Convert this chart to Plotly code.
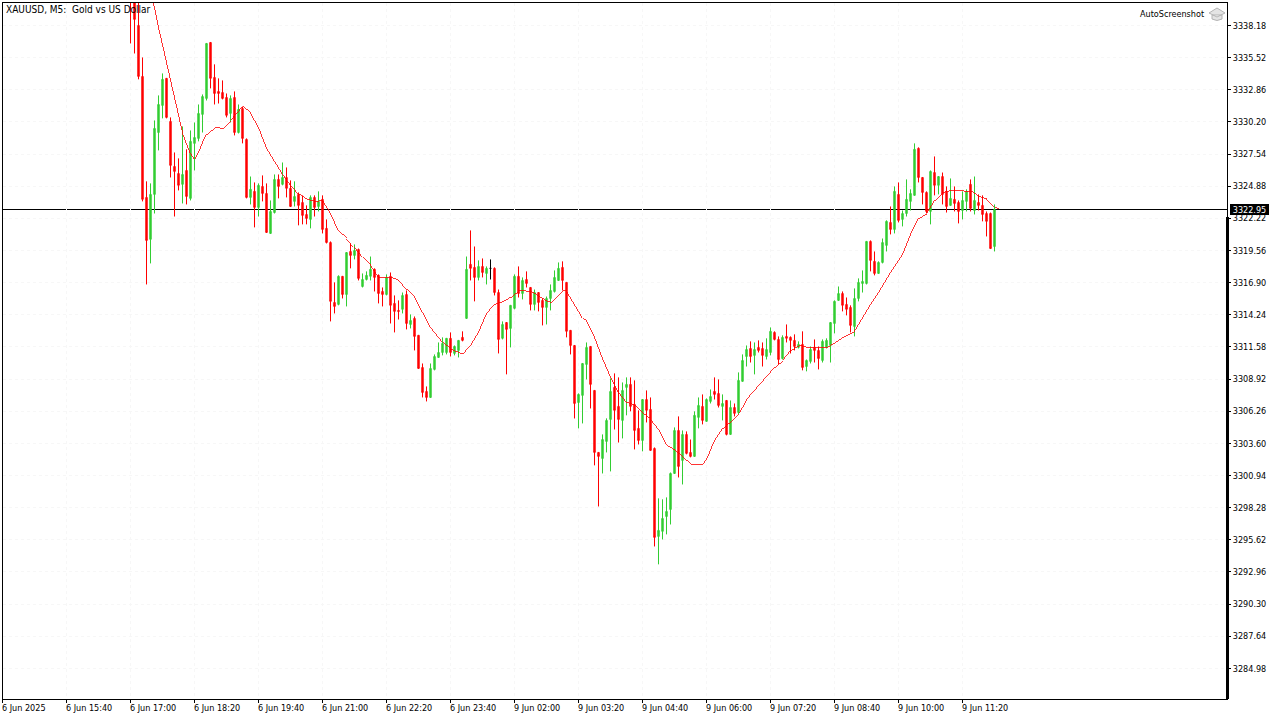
import plotly.graph_objects as go

bar_index_start = 32
opens = [3341.50,3340.80,3338.18,3333.96,3323.95,3320.48,3324.20,3329.32,3331.56,3333.80,3330.24,3326.51,3325.93,3325.03,3326.18,3323.87,3328.42,3328.83,3330.82,3332.14,3336.77,3333.88,3332.72,3332.63,3332.22,3330.90,3332.22,3329.32,3331.31,3328.75,3323.95,3324.45,3323.12,3324.86,3324.28,3320.97,3322.70,3325.44,3325.03,3325.60,3324.70,3323.62,3324.20,3323.53,3322.54,3322.13,3323.95,3323.20,3323.79,3321.39,
 3320.22,3315.26,3315.10,3317.42,3315.92,3319.48,3319.15,3319.64,3316.58,3317.16,3317.42,3318.00,3317.50,3316.17,3315.92,3317.42,3315.18,3314.60,3314.69,3315.92,3313.44,3313.94,3312.54,3309.88,3307.90,3307.40,3309.72,3310.71,3311.12,3311.12,3312.29,3311.04,3311.29,3312.37,3313.94,3318.41,3318.16,3317.33,3318.24,3317.66,3318.08,3318.08,3316.08,3312.29,3313.60,3313.11,3314.77,3317.42,3316.00,3317.16,
 3316.50,3315.10,3316.08,3315.43,3314.85,3315.59,3316.17,3317.08,3318.16,3316.92,3312.95,3311.70,3306.98,3307.57,3310.13,3311.62,3307.98,3302.85,3302.35,3303.76,3305.58,3308.23,3306.66,3305.50,3308.23,3308.48,3306.82,3304.84,3303.84,3307.23,3306.41,3303.18,3295.90,3296.32,3297.55,3298.13,3301.11,3304.67,3302.19,3304.34,3302.85,3302.52,3305.75,3306.66,3305.42,3307.07,3307.90,3307.73,3306.66,3307.15,
 3304.34,3306.57,3306.16,3308.73,3310.79,3311.45,3310.88,3311.54,3311.45,3310.79,3311.12,3312.78,3312.20,3310.62,3312.45,3312.37,3312.12,3311.54,3311.79,3309.96,3310.38,3311.54,3311.29,3310.46,3311.54,3311.70,3313.52,3315.43,3316.00,3315.10,3314.85,3313.27,3315.59,3316.83,3316.83,3320.31,3318.66,3317.66,3318.57,3319.98,3321.88,3321.30,3324.20,3322.13,3322.62,3323.62,3324.12,3328.01,3325.60,3324.36,
 3322.79,3326.01,3324.95,3325.68,3324.45,3323.29,3323.79,3323.53,3322.87,3323.62,3325.03,3322.87,3323.53,3323.29,3322.62,3322.62,3319.89]
highs = [3342.00,3342.00,3340.50,3335.53,3325.28,3325.11,3330.32,3332.39,3334.21,3333.80,3330.57,3327.67,3327.18,3329.82,3327.93,3329.49,3330.15,3331.64,3332.47,3336.69,3336.77,3334.96,3333.80,3333.63,3332.55,3332.39,3332.72,3331.64,3331.47,3328.83,3325.68,3325.19,3325.11,3325.77,3325.11,3323.70,3325.85,3325.85,3326.84,3326.43,3325.36,3325.28,3324.36,3324.12,3323.29,3324.12,3324.12,3324.45,3324.12,3322.13,
 3320.31,3316.92,3317.50,3317.42,3319.39,3320.14,3320.06,3319.72,3317.66,3317.83,3319.06,3318.08,3317.58,3316.50,3317.58,3317.74,3315.84,3315.43,3316.08,3316.25,3314.27,3314.10,3312.54,3310.21,3308.31,3310.21,3310.96,3311.95,3312.37,3312.29,3312.78,3311.70,3312.12,3312.87,3319.06,3321.22,3319.89,3318.74,3318.90,3318.24,3318.82,3318.16,3316.33,3313.69,3313.60,3315.02,3317.58,3318.24,3317.33,3317.83,
 3316.50,3316.33,3316.08,3315.59,3315.75,3316.75,3317.91,3318.57,3318.66,3316.92,3312.95,3311.70,3307.73,3310.21,3311.95,3311.62,3307.98,3302.85,3304.34,3305.67,3308.98,3309.39,3309.06,3308.64,3309.06,3309.06,3308.81,3306.33,3307.23,3307.98,3307.40,3303.26,3299.05,3298.97,3299.13,3301.19,3304.92,3305.83,3304.67,3304.59,3303.92,3306.25,3307.40,3307.65,3307.32,3308.06,3309.06,3308.89,3307.65,3307.15,
 3307.15,3306.90,3309.47,3310.96,3311.70,3312.04,3311.95,3312.12,3311.95,3312.29,3313.19,3312.87,3312.45,3312.54,3313.44,3312.45,3312.62,3312.04,3312.87,3310.54,3311.62,3312.20,3311.62,3312.20,3312.29,3313.60,3315.43,3316.58,3316.17,3315.67,3315.02,3316.42,3317.25,3317.91,3320.31,3320.39,3319.48,3318.66,3320.55,3322.05,3323.20,3324.86,3325.19,3322.87,3325.44,3324.62,3328.42,3328.09,3325.60,3324.45,
 3326.18,3327.34,3325.68,3326.01,3324.86,3325.52,3324.86,3323.70,3324.45,3324.62,3325.44,3325.68,3324.20,3324.12,3322.79,3322.70,3323.37]
lows = [3336.69,3335.86,3333.72,3323.62,3316.75,3318.49,3322.62,3327.84,3330.49,3330.49,3325.60,3322.37,3324.53,3323.45,3323.37,3323.70,3326.18,3328.59,3329.32,3331.97,3332.97,3331.64,3331.72,3332.06,3330.57,3330.15,3329.08,3329.24,3328.42,3323.87,3323.37,3321.47,3322.37,3323.62,3321.05,3320.97,3322.62,3323.87,3324.95,3323.95,3323.20,3323.20,3321.64,3321.72,3321.72,3321.39,3322.37,3322.79,3320.97,3320.14,
 3313.69,3314.35,3315.02,3315.59,3314.93,3318.08,3318.82,3317.08,3316.50,3317.08,3317.08,3316.17,3315.18,3314.93,3315.84,3313.52,3312.78,3313.85,3314.35,3313.03,3313.11,3311.29,3309.80,3307.40,3307.07,3307.40,3309.64,3310.71,3310.88,3310.96,3310.79,3310.88,3310.71,3312.04,3314.02,3317.08,3315.35,3317.08,3317.33,3316.75,3317.16,3315.84,3311.04,3312.20,3309.31,3311.54,3314.69,3315.67,3315.51,3316.50,
 3314.60,3314.60,3314.52,3313.36,3313.44,3314.60,3316.08,3317.08,3316.25,3312.37,3310.96,3305.66,3304.84,3305.25,3308.89,3306.49,3301.78,3298.38,3301.11,3302.85,3301.28,3304.75,3303.67,3304.01,3305.92,3306.25,3303.10,3303.51,3302.94,3305.33,3303.02,3295.07,3293.59,3295.65,3296.07,3296.89,3301.11,3300.78,3300.20,3302.69,3302.44,3302.52,3304.84,3305.17,3305.42,3306.90,3307.23,3306.57,3305.50,3304.26,
 3304.34,3305.83,3306.00,3308.73,3309.96,3310.29,3309.31,3311.12,3309.96,3310.54,3310.88,3312.12,3310.13,3310.54,3311.95,3311.04,3311.29,3311.45,3309.64,3309.56,3310.21,3310.29,3309.72,3310.29,3311.45,3310.29,3312.70,3315.43,3314.52,3314.19,3312.78,3312.45,3315.35,3316.08,3316.75,3317.83,3317.50,3317.66,3318.49,3319.48,3320.89,3320.97,3321.88,3321.55,3322.37,3322.87,3324.12,3325.19,3323.37,3322.62,
 3321.72,3324.12,3324.20,3323.37,3322.70,3323.29,3322.79,3321.80,3322.13,3322.79,3322.79,3322.54,3322.87,3321.97,3320.72,3319.72,3319.48]
closes = [3340.60,3338.68,3333.96,3323.79,3320.39,3324.20,3329.66,3331.64,3333.72,3330.57,3326.60,3326.10,3324.95,3325.85,3324.03,3328.59,3328.91,3330.90,3332.30,3336.69,3333.80,3332.55,3332.55,3332.14,3330.74,3332.14,3329.32,3331.23,3328.83,3323.95,3324.62,3323.12,3324.95,3324.28,3321.05,3322.79,3325.44,3324.86,3325.60,3324.70,3323.20,3324.03,3323.29,3322.46,3322.21,3323.95,3323.12,3323.62,3321.30,3320.22,
 3315.35,3314.93,3317.42,3315.92,3319.39,3319.15,3319.56,3317.25,3317.16,3317.50,3318.00,3317.33,3316.00,3315.92,3317.33,3315.02,3314.52,3314.52,3315.84,3313.52,3313.77,3312.45,3309.80,3307.81,3307.40,3309.80,3310.79,3311.12,3311.87,3312.29,3311.12,3311.62,3312.12,3312.12,3318.00,3318.08,3317.33,3318.24,3317.74,3318.08,3318.08,3316.08,3312.20,3313.44,3313.03,3315.02,3317.42,3316.00,3317.08,3316.83,
 3315.10,3316.08,3315.26,3314.85,3315.59,3316.25,3317.33,3318.08,3317.08,3312.87,3311.70,3306.90,3307.65,3310.21,3311.54,3308.48,3302.85,3302.52,3303.92,3305.50,3307.90,3306.33,3305.58,3307.98,3308.48,3306.66,3304.67,3303.84,3307.23,3306.33,3303.02,3295.82,3296.40,3297.39,3297.97,3301.11,3304.67,3301.69,3304.34,3302.77,3302.52,3305.92,3306.74,3305.50,3307.23,3307.48,3307.65,3306.74,3306.90,3304.34,
 3306.57,3306.08,3308.81,3310.46,3311.37,3310.79,3311.37,3311.29,3310.88,3311.37,3312.87,3312.20,3310.54,3312.37,3312.29,3312.12,3311.62,3311.79,3309.88,3310.46,3311.37,3311.29,3310.62,3312.04,3312.12,3313.60,3315.35,3316.00,3315.02,3314.69,3313.36,3315.59,3316.92,3317.00,3320.31,3318.74,3317.66,3318.57,3320.22,3321.97,3321.30,3324.45,3322.05,3322.62,3323.79,3324.28,3327.93,3325.60,3324.36,3322.79,
 3326.10,3324.95,3325.68,3324.20,3323.20,3323.87,3323.45,3322.79,3323.70,3324.45,3323.04,3323.70,3323.29,3322.54,3321.97,3319.72,3322.95]

ma_bars = [37,39,41,43,45,47,48,49,50,51,53,55,57,60,62,64,66,68,70,72,74,76,78,80,82,84,86,88,90,92,94,97,99,101,103,105,107,110,112,115,117,119,121,123,125,127,129,132,134,136,137,140,141,143,145,146,148,150,152,154,156,158,160,162,164,166,168,170,172,175,176,178,180,182,184,186,190,193,195,197,199,201,206,208,210,213,215,217,219,222,225,227,229,231,233,235,237,242,244,246,248,249]
ma_values = [3341.24,3338.02,3335.12,3332.14,3329.32,3327.59,3327.09,3327.67,3328.50,3329.16,3329.74,3329.66,3330.32,3331.47,3330.90,3329.74,3328.01,3326.93,3325.85,3324.95,3324.20,3323.79,3323.62,3323.70,3322.62,3321.14,3320.55,3319.81,3318.98,3318.33,3317.33,3317.33,3317.08,3316.33,3315.67,3314.43,3313.19,3311.95,3311.37,3310.96,3311.70,3312.78,3314.35,3315.10,3315.35,3315.67,3316.25,3316.17,3315.75,3315.35,3315.26,3316.25,3316.17,3315.02,3313.94,3313.69,3312.37,3310.62,3309.06,3307.81,3306.98,3306.74,3306.08,3305.58,3304.75,3303.43,3303.02,3302.44,3301.86,3301.86,3302.27,3303.84,3304.84,3305.42,3306.08,3307.23,3308.73,3309.88,3310.46,3311.29,3311.70,3311.54,3311.54,3311.95,3312.37,3312.87,3314.02,3315.10,3316.08,3317.74,3319.23,3320.89,3322.21,3322.62,3323.70,3324.36,3324.53,3324.45,3324.03,3323.79,3323.12,3322.95]

price_ticks = [3338.18,3335.52,3332.86,3330.20,3327.54,3324.88,3322.22,3319.56,3316.90,3314.24,3311.58,3308.92,3306.26,3303.60,3300.94,3298.28,3295.62,3292.96,3290.30,3287.64,3284.98]
time_tick_bars = [0,16,32,48,64,80,96,112,128,144,160,176,192,208,224,240]
time_labels = ["6 Jun 2025","6 Jun 15:40","6 Jun 17:00","6 Jun 18:20","6 Jun 19:40","6 Jun 21:00","6 Jun 22:20","6 Jun 23:40","9 Jun 02:00","9 Jun 03:20","9 Jun 04:40","9 Jun 06:00","9 Jun 07:20","9 Jun 08:40","9 Jun 10:00","9 Jun 11:20"]
last_price = 3322.95
title_text = "XAUUSD, M5:  Gold vs US Dollar"
stamp_text = "AutoScreenshot"

FONT = "DejaVu Sans Condensed, DejaVu Sans"
SIZE = 9
GREEN = "#32CD32"
RED = "#FF0000"
bars = [bar_index_start + k for k in range(len(opens))]
normal = [k for k in range(len(opens)) if opens[k] != closes[k]]
doji = [k for k in range(len(opens)) if opens[k] == closes[k]]

def pick(values, keys):
    return [values[k] for k in keys]

fig = go.Figure()
fig.add_trace(go.Candlestick(
    x=pick(bars, normal), open=pick(opens, normal), high=pick(highs, normal),
    low=pick(lows, normal), close=pick(closes, normal),
    increasing=dict(line=dict(color=GREEN, width=1), fillcolor=GREEN),
    decreasing=dict(line=dict(color=RED, width=1), fillcolor=RED),
    whiskerwidth=0, showlegend=False, hoverinfo="skip"))
if doji:
    fig.add_trace(go.Candlestick(
        x=pick(bars, doji), open=pick(opens, doji), high=pick(highs, doji),
        low=pick(lows, doji), close=pick(closes, doji),
        increasing=dict(line=dict(color="#000000", width=1), fillcolor="#000000"),
        decreasing=dict(line=dict(color="#000000", width=1), fillcolor="#000000"),
        whiskerwidth=0, showlegend=False, hoverinfo="skip"))
fig.add_trace(go.Scatter(x=ma_bars, y=ma_values, mode="lines",
                         line=dict(color=RED, width=0.8), showlegend=False, hoverinfo="skip"))

fig.add_shape(type="line", xref="paper", x0=0, x1=1, yref="y", y0=last_price, y1=last_price,
              line=dict(color="#000000", width=1), layer="between")
# heavier lower part of the price-scale edge
fig.add_shape(type="rect", xref="paper", yref="paper", xsizemode="pixel", ysizemode="pixel",
              xanchor=1, yanchor=0, x0=-1, x1=2, y0=0, y1=482,
              line=dict(width=0), fillcolor="#000000")
# first time tick sits on the left frame
fig.add_shape(type="line", xref="paper", yref="paper", xsizemode="pixel", ysizemode="pixel",
              xanchor=0, yanchor=0, x0=-0.5, x1=-0.5, y0=0, y1=-4,
              line=dict(color="#000000", width=1))
# graduation-cap mark beside the AutoScreenshot stamp
fig.add_shape(type="path", xref="paper", yref="paper", xsizemode="pixel", ysizemode="pixel",
              xanchor=1, yanchor=1,
              path="M -15 -12 L -15 -16 Q -10 -19 -5 -16 L -5 -12 Z M -18 -10 L -10 -5 L -2 -10 L -10 -14 Z",
              line=dict(color="#B4B4B4", width=1), fillcolor="#E4E4E4")

annotations = []
annotations.append(dict(text=title_text, xref="paper", x=0, xshift=1, yref="paper", y=1, yshift=1,
                        xanchor="left", yanchor="top", showarrow=False,
                        font=dict(family=FONT, size=10, color="#000000")))
annotations.append(dict(text=stamp_text, xref="paper", x=1, xshift=-21, yref="paper", y=1, yshift=-4,
                        xanchor="right", yanchor="top", showarrow=False,
                        font=dict(family=FONT, size=SIZE, color="#000000")))
for b, lab in zip(time_tick_bars, time_labels):
    ref = dict(xref="paper", x=0) if b == 0 else dict(xref="x", x=b)
    annotations.append(dict(text=lab, yref="paper", y=0, yshift=-2, xanchor="left",
                            yanchor="top", showarrow=False, xshift=-3,
                            font=dict(family=FONT, size=SIZE, color="#000000"), **ref))
annotations.append(dict(text=f"{last_price:.2f}", xref="paper", x=1, xshift=3, yref="y", y=last_price,
                        xanchor="left", yanchor="middle", showarrow=False, bgcolor="#000000",
                        borderpad=0, borderwidth=0, width=39, height=11, align="center",
                        font=dict(family=FONT, size=SIZE, color="#FFFFFF")))

fig.update_layout(
    width=1280, height=720, margin=dict(l=3, r=53, t=3, b=21, pad=0),
    paper_bgcolor="#FFFFFF", plot_bgcolor="#FFFFFF",
    font=dict(family=FONT, size=SIZE, color="#000000"),
    boxgap=0.5, annotations=annotations, dragmode=False,
    xaxis=dict(range=[0.125, 306.125], tickmode="array", tickvals=time_tick_bars, ticktext=[""] * len(time_tick_bars),
               ticks="outside", ticklen=3, tickcolor="#000000", tickwidth=1,
               showgrid=True, gridcolor="#F7F7F7", griddash="dot", gridwidth=1,
               showline=True, linecolor="#000000", linewidth=1, mirror=True,
               rangeslider=dict(visible=False), zeroline=False, fixedrange=True),
    yaxis=dict(range=[3282.449, 3340.036], side="right", tickmode="array", tickvals=price_ticks,
               ticktext=[f"{v:.2f}" for v in price_ticks], ticks="outside", ticklen=3,
               tickcolor="#000000", tickwidth=1, showgrid=True, gridcolor="#F7F7F7", griddash="dot", gridwidth=1,
               showline=True, linecolor="#000000", linewidth=1, mirror=True, zeroline=False,
               tickfont=dict(family=FONT, size=SIZE, color="#000000"), fixedrange=True),
)
fig.write_html("out.html", config=dict(displayModeBar=False),
               post_script="document.body.style.margin='0';"
                           "var s=document.createElement('style');"
                           "s.textContent='.scatterlayer .js-line{shape-rendering:crispEdges}';"
                           "document.head.appendChild(s);")
